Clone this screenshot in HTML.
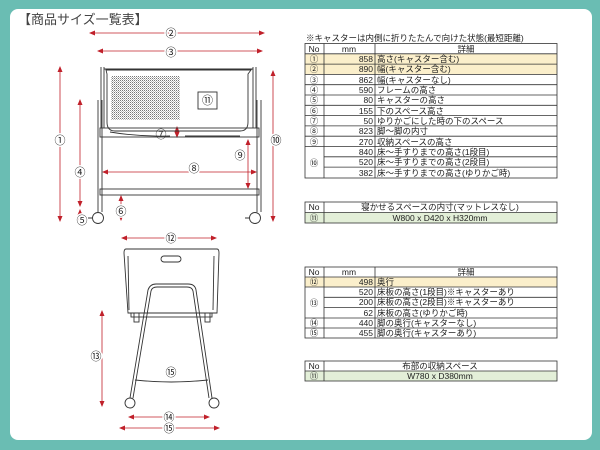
<!DOCTYPE html>
<html><head><meta charset="utf-8"><style>
html,body{margin:0;padding:0}
body{width:600px;height:450px;background:#6abdb3;position:relative;overflow:hidden;font-family:"Liberation Sans","Noto Sans CJK JP",sans-serif}
.w{position:absolute;left:10px;top:9px;width:582px;height:431px;background:#fff;border-radius:8px}
svg{position:absolute;left:0;top:0}
</style></head><body>
<div class="w"></div>
<svg width="600" height="450" viewBox="0 0 600 450" font-family="Liberation Sans, Noto Sans CJK JP, sans-serif">
<defs>
<marker id="a" markerWidth="6" markerHeight="6" refX="5" refY="3" orient="auto-start-reverse" markerUnits="userSpaceOnUse"><path d="M0,0.5 L6,3 L0,5.5z" fill="#c0202a"/></marker>
<pattern id="m" width="2" height="2" patternUnits="userSpaceOnUse"><rect width="1" height="1" fill="#777"/><rect x="1" y="1" width="1" height="1" fill="#bbb"/></pattern>
</defs>
<text x="18" y="24" font-size="13" fill="#444">【商品サイズ一覧表】</text>
<g stroke="#c0202a" stroke-width="0.8" fill="none" marker-start="url(#a)" marker-end="url(#a)">
<line x1="90" y1="33" x2="264" y2="33"/>
<line x1="98" y1="51" x2="262" y2="51"/>
<line x1="60" y1="67" x2="60" y2="221"/>
<line x1="80" y1="100" x2="80" y2="206"/>
<line x1="80" y1="210" x2="80" y2="222"/>
<line x1="121" y1="196" x2="121" y2="220"/>
<line x1="177" y1="127" x2="177" y2="137"/>
<line x1="103" y1="172" x2="256" y2="172"/>
<line x1="248" y1="140" x2="248" y2="188"/>
<line x1="273" y1="71" x2="273" y2="221"/>
<line x1="122" y1="238" x2="216" y2="238"/>
<line x1="102" y1="311" x2="102" y2="406"/>
<line x1="129" y1="417" x2="209" y2="417"/>
<line x1="120" y1="428" x2="219" y2="428"/>
</g>
<g font-size="11" fill="#222" text-anchor="middle" stroke="#fff" stroke-width="3" paint-order="stroke">
<text x="171" y="37">②</text><text x="171" y="56">③</text>
<text x="60" y="144">①</text><text x="80" y="176">④</text><text x="82" y="224">⑤</text>
<text x="121" y="215">⑥</text><text x="161" y="138">⑦</text><text x="194" y="172">⑧</text>
<text x="240" y="159">⑨</text><text x="276" y="144">⑩</text>
<text x="171" y="242">⑫</text><text x="96" y="360">⑬</text><text x="171" y="376">⑮</text>
<text x="169" y="421">⑭</text><text x="169" y="432">⑮</text>
<text x="207.5" y="104">⑪</text>
</g>
<!-- top drawing -->
<g stroke="#333" stroke-width="0.9" fill="none">
<line x1="101" y1="67" x2="101" y2="128"/><line x1="104" y1="67" x2="104" y2="128"/>
<line x1="256" y1="67" x2="256" y2="128"/><line x1="253" y1="67" x2="253" y2="128"/>
<path d="M106,70 H251 L248,74 V122 Q248,131 240,131 H115 Q107,131 107,122 V74z"/>
<path d="M104,69 H253"/>
<rect x="111" y="76" width="69" height="44" fill="url(#m)" stroke="none"/>
<rect x="198" y="92" width="19" height="17"/>
<line x1="98" y1="100" x2="98" y2="212"/><line x1="102" y1="100" x2="102" y2="212"/>
<line x1="257" y1="100" x2="257" y2="212"/><line x1="261" y1="100" x2="261" y2="212"/>
<rect x="100" y="128" width="159" height="9"/>
<path d="M110,132 Q140,137 170,136 M185,136 H240"/>
<rect x="100" y="189" width="159" height="6"/>
<circle cx="98" cy="218" r="5.5"/><circle cx="255" cy="218" r="5.5"/>
<path d="M92,218 h-4 M249,218 h-4"/>
</g>
<!-- bottom drawing -->
<g stroke="#333" stroke-width="0.9" fill="none">
<path d="M126,249 H217 Q219,249 219,253 L217,313 H128 L124,253 Q124,249 126,249z"/>
<line x1="128" y1="256" x2="129" y2="310"/><line x1="214" y1="256" x2="213" y2="310"/>
<rect x="161" y="256" width="20" height="6" rx="3"/>
<path d="M130,398 L148,290 Q150,284 156,284 H188 Q195,284 196,290 L212,398"/>
<path d="M133,398 L151,291 Q152,287 157,287 H187 Q192,287 193,291 L209,398"/>
<rect x="131" y="313" width="81" height="4"/>
<rect x="134" y="313" width="5" height="9"/><rect x="205" y="313" width="5" height="9"/>
<path d="M135,380 Q171,384 208,380"/>
<circle cx="130" cy="403" r="5"/><circle cx="214" cy="403" r="5"/>
</g>
<!-- tables -->
<g font-size="8.5" fill="#222">
<text x="306" y="41">※キャスターは内側に折りたたんで向けた状態(最短距離)</text>
<rect x="305" y="54" width="252" height="20.6" fill="#fbefcb"/>
<rect x="305" y="212.5" width="252" height="10.5" fill="#e3efd8"/>
<rect x="305" y="277" width="252" height="10" fill="#fbefcb"/>
<rect x="305" y="371" width="252" height="10" fill="#e3efd8"/>
</g>
<g stroke="#333" stroke-width="0.8" fill="none">
<rect x="305" y="43.5" width="252" height="134.5"/>
<line x1="324" y1="43.5" x2="324" y2="178"/><line x1="375" y1="43.5" x2="375" y2="178"/>
<path d="M305,53.8H557M305,64.1H557M305,74.4H557M305,84.7H557M305,95H557M305,105.3H557M305,115.6H557M305,125.9H557M305,136.2H557M305,146.5H557M324,156.8H557M324,167.1H557"/>
<rect x="305" y="202" width="252" height="21"/>
<line x1="324" y1="202" x2="324" y2="223"/><line x1="305" y1="212.5" x2="557" y2="212.5"/>
<rect x="305" y="267" width="252" height="71"/>
<line x1="324" y1="267" x2="324" y2="338"/><line x1="375" y1="267" x2="375" y2="338"/>
<path d="M305,277H557M305,287H557M324,297.3H557M324,307.6H557M305,318H557M305,328H557"/>
<rect x="305" y="361" width="252" height="20"/>
<line x1="324" y1="361" x2="324" y2="381"/><line x1="305" y1="371" x2="557" y2="371"/>
</g>
<g font-size="8.5" fill="#222">
<g text-anchor="middle">
<text x="314" y="52">No</text><text x="349" y="52">mm</text><text x="466" y="52">詳細</text>
<text x="314" y="62">①</text><text x="314" y="72">②</text><text x="314" y="83">③</text><text x="314" y="93">④</text><text x="314" y="103">⑤</text><text x="314" y="114">⑥</text><text x="314" y="124">⑦</text><text x="314" y="134">⑧</text><text x="314" y="145">⑨</text><text x="314" y="166">⑩</text>
<text x="314" y="210">No</text><text x="440" y="210">寝かせるスペースの内寸(マットレスなし)</text>
<text x="314" y="221">⑪</text><text x="440" y="221">W800 x D420 x H320mm</text>
<text x="314" y="275">No</text><text x="349" y="275">mm</text><text x="466" y="275">詳細</text>
<text x="314" y="285">⑫</text><text x="314" y="306">⑬</text><text x="314" y="326">⑭</text><text x="314" y="336">⑮</text>
<text x="314" y="369">No</text><text x="440" y="369">布部の収納スペース</text>
<text x="314" y="379">⑪</text><text x="440" y="379">W780 x D380mm</text>
</g>
<g text-anchor="end">
<text x="373" y="62">858</text><text x="373" y="72">890</text><text x="373" y="83">862</text><text x="373" y="93">590</text><text x="373" y="103">80</text><text x="373" y="114">155</text><text x="373" y="124">50</text><text x="373" y="134">823</text><text x="373" y="145">270</text><text x="373" y="155">840</text><text x="373" y="165">520</text><text x="373" y="176">382</text>
<text x="373" y="285">498</text><text x="373" y="295">520</text><text x="373" y="305">200</text><text x="373" y="316">62</text><text x="373" y="326">440</text><text x="373" y="336">455</text>
</g>
<g>
<text x="377" y="62">高さ(キャスター含む)</text><text x="377" y="72">幅(キャスター含む)</text><text x="377" y="83">幅(キャスターなし)</text><text x="377" y="93">フレームの高さ</text><text x="377" y="103">キャスターの高さ</text><text x="377" y="114">下のスペース高さ</text><text x="377" y="124">ゆりかごにした時の下のスペース</text><text x="377" y="134">脚～脚の内寸</text><text x="377" y="145">収納スペースの高さ</text><text x="377" y="155">床～手すりまでの高さ(1段目)</text><text x="377" y="165">床～手すりまでの高さ(2段目)</text><text x="377" y="176">床～手すりまでの高さ(ゆりかご時)</text>
<text x="377" y="285">奥行</text><text x="377" y="295">床板の高さ(1段目)※キャスターあり</text><text x="377" y="305">床板の高さ(2段目)※キャスターあり</text><text x="377" y="316">床板の高さ(ゆりかご時)</text><text x="377" y="326">脚の奥行(キャスターなし)</text><text x="377" y="336">脚の奥行(キャスターあり)</text>
</g>
</g>
</svg>
</body></html>
